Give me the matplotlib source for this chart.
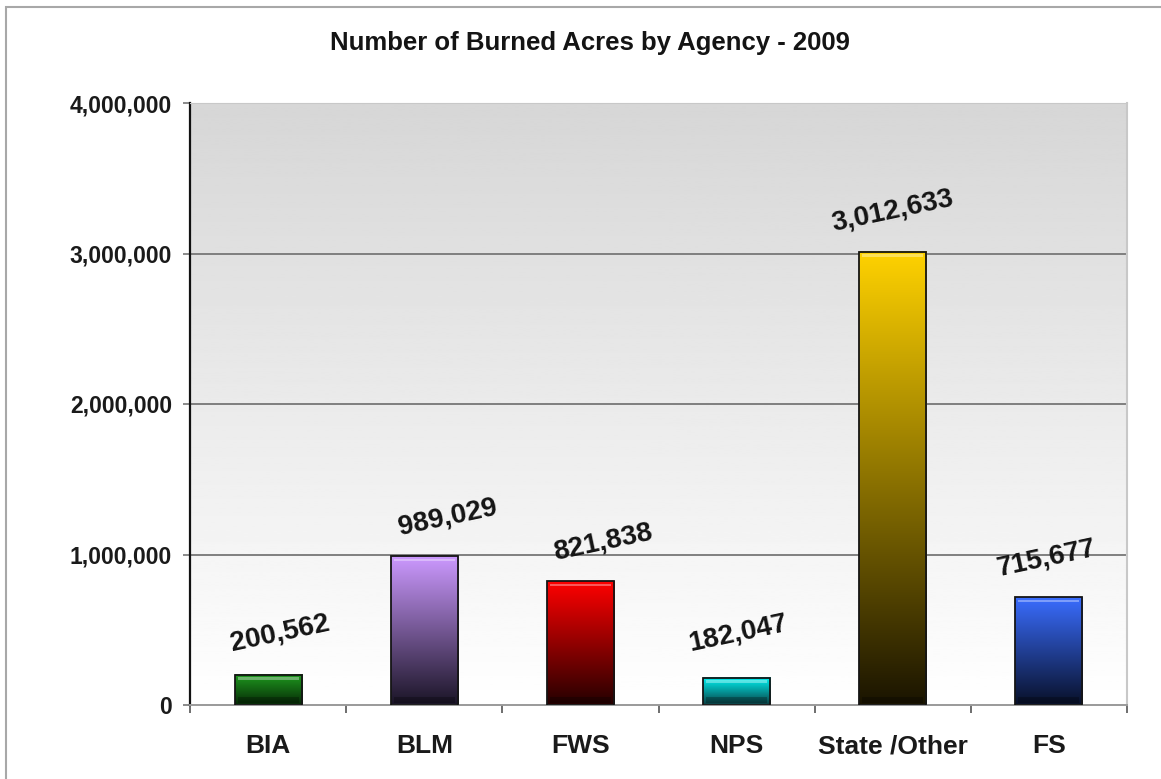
import matplotlib.pyplot as plt
import numpy as np
from matplotlib.colors import LinearSegmentedColormap
from matplotlib.patches import Rectangle

plt.rcParams['font.family'] = ['Liberation Sans', 'DejaVu Sans']

# Data
agencies = ['BIA', 'BLM', 'FWS', 'NPS', 'State /Other', 'FS']
acres = [200562, 989029, 821838, 182047, 3012633, 715677]
top_colors = ['#1f9a1f', '#cc99ff', '#ff0000', '#00f5f5', '#ffd200', '#3a6dff']
bottom_colors = ['#062806', '#1a1426', '#240000', '#0a3c40', '#1a1400', '#081028']
ytick_vals = [0, 1000000, 2000000, 3000000, 4000000]
# label nudges (pixels), as placed in the original
label_dx = [12, 23, 23, 1, 0, -2]
label_dy = [42, 39, 39, 44, 41, 39]

W, H = 1161, 779
fig = plt.figure(figsize=(W / 100, H / 100), dpi=100)
ax = fig.add_axes([190 / W, 1 - 705 / H, (1127 - 190) / W, (705 - 103) / H])

n = len(agencies)
ymax = 4000000
px = ymax / 602.0  # data units per pixel (vertical)
pxx = n / (1127 - 190.0)  # data units per pixel (horizontal)
ax.set_xlim(0, n)
ax.set_ylim(0, ymax)

# background gradient: grey at top to white at bottom
bg = np.linspace(1.0, 0.84, 256).reshape(-1, 1)
ax.imshow(bg, extent=[0, n, 0, ymax], aspect='auto', cmap='gray', vmin=0, vmax=1,
          origin='lower', zorder=0)

for y in ytick_vals[1:]:
    ax.axhline(y, color='#7f7f7f', lw=1.4, zorder=1)

bw = 0.43
grad = np.linspace(0, 1, 256).reshape(-1, 1)
for i, (v, ctop, cbot) in enumerate(zip(acres, top_colors, bottom_colors)):
    x0, x1 = i + 0.5 - bw / 2, i + 0.5 + bw / 2
    cmap = LinearSegmentedColormap.from_list('b%d' % i, [cbot, ctop])
    ax.imshow(grad, extent=[x0, x1, 0, v], aspect='auto', cmap=cmap, origin='lower', zorder=2)
    # bevel highlight near top and darker band at bottom
    ax.add_patch(Rectangle((x0 + 0.02, v - 5 * px), bw - 0.04, 2.5 * px, color='white',
                           alpha=0.35, lw=0, zorder=3))
    ax.add_patch(Rectangle((x0 + 0.02, 2 * px), bw - 0.04, 6 * px, color='black',
                           alpha=0.25, lw=0, zorder=3))
    ax.add_patch(Rectangle((x0, 0), bw, v, fill=False, edgecolor='#151515', lw=1.3, zorder=4))
    ax.text(i + 0.5 + label_dx[i] * pxx, v + label_dy[i] * px, f'{v:,}', rotation=12,
            ha='center', va='center', fontsize=20, fontweight='bold', color='#141414', zorder=5)

# axes styling
ax.set_yticks(ytick_vals)
ax.set_yticklabels([f'{t:,}' for t in ytick_vals], fontsize=16.5, fontweight='bold', color='#1a1a1a')
ax.set_xticks(np.arange(n + 1))
ax.set_xticklabels([])
ax.set_xticks(np.arange(n) + 0.5, minor=True)
ax.set_xticklabels(agencies, minor=True, fontsize=19, fontweight='bold', color='#1a1a1a')
ax.tick_params(axis='x', which='minor', length=0, pad=21)
ax.tick_params(axis='x', which='major', length=6, width=1.2, color='#555555')
ax.tick_params(axis='y', length=5, width=1.2, color='#777777', pad=8)
ax.spines['left'].set_color('#111111')
ax.spines['left'].set_linewidth(1.6)
ax.spines['bottom'].set_color('#9a9a9a')
ax.spines['bottom'].set_linewidth(1.4)
ax.spines['top'].set_color('#c8c8c8')
ax.spines['right'].set_color('#c8c8c8')
ax.spines['right'].set_linewidth(1.5)

fig.text(590 / W, 1 - 43 / H, 'Number of Burned Acres by Agency - 2009', ha='center', va='center',
         fontsize=18.5, fontweight='bold', color='#141414')

# outer chart frame
fig.patches.append(Rectangle((6 / W, -0.01), 1.2, 1 - 7 / H + 0.01, transform=fig.transFigure,
                             fill=False, edgecolor='#a8a8a8', lw=1.5))

fig.savefig('out.png', dpi=100)
